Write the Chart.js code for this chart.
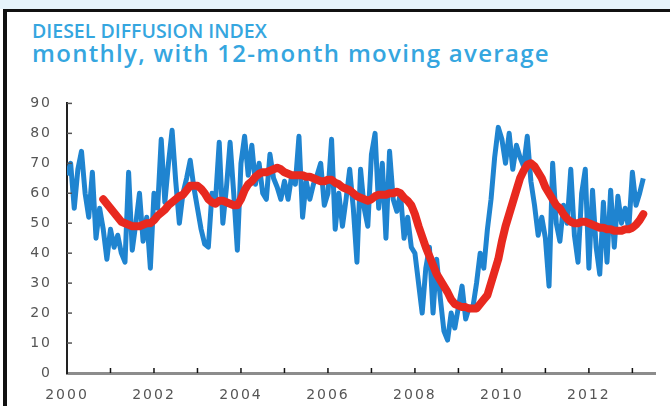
<!DOCTYPE html>
<html>
<head>
<meta charset="utf-8">
<script src="https://cdn.jsdelivr.net/npm/chart.js@4"></script>
<style>
  html, body { margin: 0; padding: 0; }
  body { width: 670px; height: 406px; position: relative; overflow: hidden; background: #fff; }
  .top-strip { position: absolute; left: 0; top: 0; width: 670px; height: 9px; background: #e6f3fb; }
  .top-rule { position: absolute; left: 3px; top: 9px; width: 667px; height: 3px; background: #111; }
  .left-rule { position: absolute; left: 3px; top: 9px; width: 4px; height: 397px; background: #111; }
  .title, .subtitle {
    position: absolute; left: 32px; color: #35a6df;
    font-family: "Open Sans", sans-serif; line-height: 1; white-space: nowrap;
  }
  .title { top: 21px; font-size: 19.5px; font-weight: 600; }
  .subtitle { top: 41px; font-size: 24px; font-weight: 600; letter-spacing: 1.3px; }
  #chart { position: absolute; left: 0; top: 80px; }
</style>
</head>
<body>
<div class="top-strip"></div>
<div class="top-rule"></div>
<div class="left-rule"></div>
<div class="title">DIESEL DIFFUSION INDEX</div>
<div class="subtitle">monthly, with 12-month moving average</div>
<canvas id="chart" width="670" height="326"></canvas>

<script>
// monthly index, Jan 2000 .. Apr 2013
const startYear = 2000;

const index2000 = [66, 70, 55, 68, 74, 60, 52, 67, 45, 55, 48, 38];
const index2001 = [48, 42, 46, 40, 37, 67, 41, 50, 60, 44, 52, 35];
const index2002 = [60, 55, 78, 57, 70, 81, 64, 50, 60, 65, 71, 62];
const index2003 = [55, 48, 43, 42, 60, 58, 77, 50, 62, 77, 60, 41];
const index2004 = [70, 79, 66, 76, 63, 70, 60, 58, 73, 65, 62, 58];
const index2005 = [64, 58, 66, 63, 79, 52, 64, 58, 63, 66, 70, 56];
const index2006 = [60, 78, 48, 60, 49, 58, 68, 55, 37, 68, 55, 49];
const index2007 = [73, 80, 55, 70, 45, 74, 58, 54, 60, 45, 52, 42];
const index2008 = [40, 30, 20, 35, 42, 20, 38, 25, 14, 11, 20, 15];
const index2009 = [22, 29, 18, 22, 22, 30, 40, 35, 48, 58, 72, 82];
const index2010 = [78, 70, 80, 68, 76, 72, 69, 79, 64, 56, 46, 52];
const index2011 = [45, 29, 70, 50, 44, 56, 50, 68, 46, 37, 60, 68];
const index2012 = [35, 61, 42, 33, 57, 37, 61, 42, 59, 50, 55, 48];
const index2013 = [67, 56, 60, 65];

// 12-month moving average, first value is Nov 2000
const avgStartMonth = 10;
const movingAvg = [
  58, 56.5,
  55, 53.5, 52, 50.5, 50, 49.5, 49, 49, 49, 49.5, 50, 50,
  51, 52.5, 53.5, 54.5, 56, 57, 58, 59, 59.5, 61, 62.5, 62.5,
  62.5, 61.5, 60, 58, 57, 56.5, 57.5, 57.5, 57, 56.5, 56, 56,
  58, 61, 63, 64, 65.5, 66.5, 67, 67, 67.5, 68, 68.5, 68,
  67, 66.5, 66, 66, 66, 66, 65.5, 65.5, 65, 64.5, 64, 64,
  64.5, 64.5, 63.5, 63, 62, 61.5, 61, 60, 59, 58.5, 58, 57.5,
  58, 59, 59.5, 59.5, 59.5, 60, 60, 60.5, 60, 58.5, 57.5, 56,
  53, 49, 45.5, 42, 39, 36, 33, 31, 29, 27, 24.5, 23,
  22.5, 22, 22, 21.5, 21.5, 21.5, 23, 24.5, 26, 30, 34, 38,
  44, 49, 53, 57, 61, 65, 67.5, 69.5, 70, 69, 67, 65,
  62, 60, 58, 56, 55, 53, 51.5, 50.5, 50, 50, 50.5, 50.5,
  50, 49.5, 49, 48.5, 48.5, 48, 48, 47.5, 47.5, 47.5, 48, 48,
  48.5, 49.5, 51, 53
];

const yTicks = [0, 10, 20, 30, 40, 50, 60, 70, 80, 90];

const monthly = [].concat(index2000, index2001, index2002, index2003, index2004,
  index2005, index2006, index2007, index2008, index2009, index2010, index2011,
  index2012, index2013);

function toPoints(values, offset) {
  return values.map((v, i) => ({ x: startYear + (i + offset) / 12, y: v }));
}

// small tick marks drawn inside the axes, like the original
const innerTicks = {
  id: 'innerTicks',
  afterDraw(chart) {
    const ctx = chart.ctx;
    const xs = chart.scales.x;
    const ys = chart.scales.y;
    const area = chart.chartArea;
    ctx.save();
    ctx.lineWidth = 1.5;
    ctx.strokeStyle = '#555';
    ys.ticks.forEach((t) => {
      if (t.value === 0) return;
      const py = ys.getPixelForValue(t.value);
      ctx.beginPath();
      ctx.moveTo(area.left, py);
      ctx.lineTo(area.left + 5, py);
      ctx.stroke();
    });
    ctx.strokeStyle = '#111';
    xs.ticks.forEach((t) => {
      if (t.value === startYear) return;
      const px = xs.getPixelForValue(t.value);
      ctx.beginPath();
      ctx.moveTo(px, area.bottom);
      ctx.lineTo(px, area.bottom - 5);
      ctx.stroke();
    });
    ctx.restore();
  },
  beforeDraw(chart) {
    // the original tick labels are wide and loosely spaced
    chart.ctx.letterSpacing = '2px';
  }
};

const ctx = document.getElementById('chart').getContext('2d');
new Chart(ctx, {
  type: 'line',
  data: {
    datasets: [
      {
        label: '12-month moving average',
        data: toPoints(movingAvg, avgStartMonth),
        borderColor: '#e8291f',
        borderWidth: 8,
        borderCapStyle: 'round',
        borderJoinStyle: 'round',
        pointRadius: 0,
        order: 0,
      },
      {
        label: 'monthly',
        data: toPoints(monthly, 0),
        borderColor: '#1f84d0',
        borderWidth: 5,
        borderJoinStyle: 'round',
        pointRadius: 0,
        order: 1,
      },
    ],
  },
  options: {
    responsive: false,
    animation: false,
    layout: { padding: { top: 8, right: 15, left: 0, bottom: 0 } },
    plugins: {
      legend: { display: false },
      tooltip: { enabled: false },
    },
    scales: {
      x: {
        type: 'linear',
        min: 2000,
        max: 2013.52,
        afterFit: (scale) => { scale.height = 33; },
        border: { color: '#8c8c8c', width: 3 },
        grid: { drawOnChartArea: false, drawTicks: false },
        ticks: {
          stepSize: 1,
          includeBounds: false,
          autoSkip: false,
          maxRotation: 0,
          padding: 14,
          color: '#555',
          font: { family: 'DejaVu Sans', size: 14 },
          callback: (v) => (v % 2 === 0 ? String(v) : ''),
        },
      },
      y: {
        min: 0,
        max: 90,
        afterFit: (scale) => { scale.width = 67; },
        afterBuildTicks: (scale) => { scale.ticks = yTicks.map((v) => ({ value: v })); },
        border: { color: '#222', width: 2 },
        grid: { drawOnChartArea: false, drawTicks: false },
        ticks: {
          padding: 15,
          color: '#555',
          font: { family: 'DejaVu Sans', size: 14 },
        },
      },
    },
  },
  plugins: [innerTicks],
});
</script>
</body>
</html>
